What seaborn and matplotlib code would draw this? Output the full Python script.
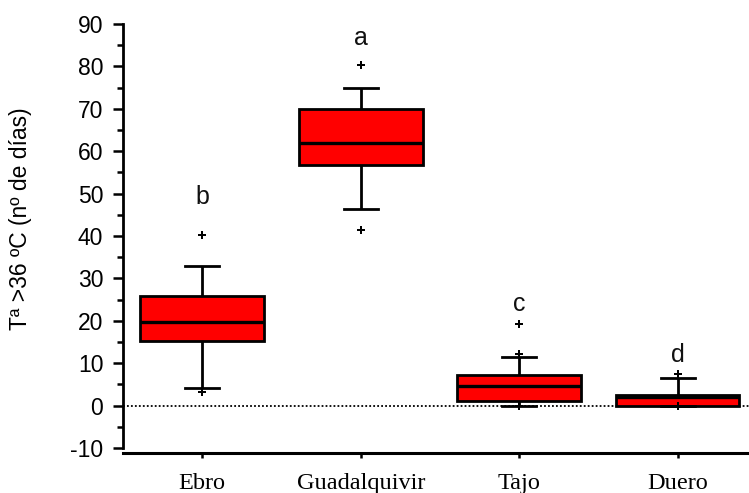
import numpy as np
import pandas as pd
import matplotlib
matplotlib.use("Agg")
import matplotlib.pyplot as plt
from matplotlib.ticker import MultipleLocator
import seaborn as sns

# ---- data ----
regions = ["Ebro", "Guadalquivir", "Tajo", "Duero"]
whisker_low = [4.2, 46.4, 0.0, 0.0]
q1 = [15.3, 56.8, 1.0, 0.0]
median = [19.8, 62.0, 4.7, 2.1]
q3 = [25.9, 70.0, 7.3, 2.6]
whisker_high = [32.9, 75.0, 11.5, 6.4]

outlier_region = ["Ebro", "Ebro", "Guadalquivir", "Guadalquivir",
                  "Tajo", "Tajo", "Tajo", "Duero", "Duero"]
outlier_value = [40.2, 3.1, 80.3, 41.3, 19.3, 12.2, 0.0, 7.5, 0.0]

letters = ["b", "a", "c", "d"]
letter_y = [49.3, 86.8, 24.0, 12.0]

ylabel = "Tª >36 ºC (nº de días)"
yticks = [-10, 0, 10, 20, 30, 40, 50, 60, 70, 80, 90]

# ---- build a tidy table: five values per group reproduce the 5-number summary ----
rows = []
for r, lo, a, m, b, hi in zip(regions, whisker_low, q1, median, q3, whisker_high):
    for v in (lo, a, m, b, hi):
        rows.append({"region": r, "value": v})
df = pd.DataFrame(rows)
out_df = pd.DataFrame({"region": outlier_region, "value": outlier_value})

plt.rcParams["font.family"] = ["Liberation Sans", "DejaVu Sans"]
plt.rcParams["axes.unicode_minus"] = False

fig = plt.figure(figsize=(7.49, 4.93), dpi=100)
ax = fig.add_axes([123 / 749, 1 - 448 / 493, 1 - 123 / 749, (448 - 24) / 493])

ax.axhline(0, color="black", lw=1.3, ls=(0, (1, 1.2)), zorder=0.5)

sns.boxplot(data=df, x="region", y="value", order=regions, whis=(0, 100),
            width=0.78, color="#ff0000", saturation=1, linecolor="black",
            linewidth=2.0, showfliers=False,
            medianprops={"linewidth": 2.4, "color": "black"}, ax=ax)

# narrow the whisker caps
for ln in ax.lines:
    xd, yd = np.asarray(ln.get_xdata(), float), np.asarray(ln.get_ydata(), float)
    if len(xd) == 2 and yd[0] == yd[1] and abs(xd[1] - xd[0]) < 0.5:
        c = xd.mean()
        ln.set_xdata([c - 0.107, c + 0.107])

sns.stripplot(data=out_df, x="region", y="value", order=regions, jitter=False,
              marker="P", color="black", size=6, linewidth=0, ax=ax, zorder=5)

for i, (t, yv) in enumerate(zip(letters, letter_y)):
    ax.text(i, yv, t, ha="center", va="center", fontsize=18, color="#111111")

ax.set_xlim(-0.5, 3.45)
ax.set_ylim(-10, 90)
ax.set_yticks(yticks)
ax.yaxis.set_minor_locator(MultipleLocator(5))
ax.set_xlabel("")
ax.set_ylabel(ylabel, fontsize=16.5)
ax.yaxis.set_label_coords(-0.146, 0.54)

for s in ("top", "right"):
    ax.spines[s].set_visible(False)
ax.spines["left"].set_linewidth(2.0)
ax.spines["bottom"].set_linewidth(2.2)
ax.spines["bottom"].set_position(("outward", 3.6))

ax.tick_params(axis="y", which="major", length=7.2, width=1.8, direction="out",
               labelsize=16.5, pad=7)
ax.tick_params(axis="y", which="minor", length=4.3, width=1.8, direction="out")
ax.tick_params(axis="x", which="major", length=3.6, width=1.8, direction="out",
               pad=11)
for lab in ax.get_xticklabels():
    lab.set_fontfamily(["Liberation Serif", "DejaVu Serif"])
    lab.set_fontsize(17.5)

fig.savefig("out.png", dpi=100)
